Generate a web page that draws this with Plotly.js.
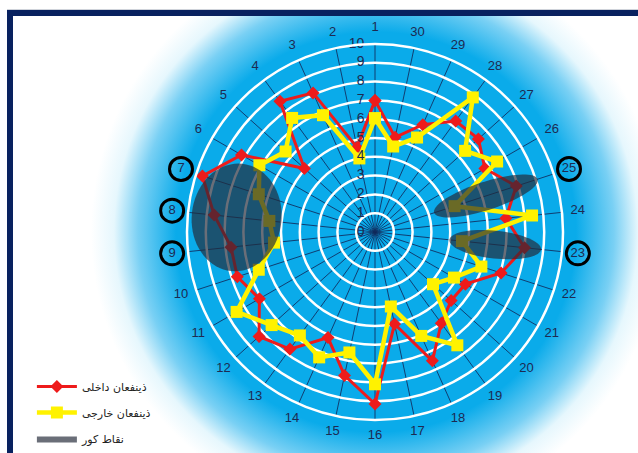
<!DOCTYPE html>
<html>
<head>
<meta charset="utf-8">
<script src="https://cdn.plot.ly/plotly-3.0.1.min.js"></script>
<style>
  html, body { margin: 0; padding: 0; background: #ffffff; }
  #wrap { position: relative; width: 638px; height: 453px; overflow: hidden; background: #ffffff; }
  #frame {
    position: absolute; left: 7px; top: 10px; width: 700px; height: 520px;
    border: 6px solid #08215f; box-sizing: content-box;
    background: radial-gradient(circle at 363px 216px, #0aabea 0px, #0aabea 200px, #79d0f4 238px, #e6f7fd 262px, #ffffff 285px);
  }
  #topline { position: absolute; left: 7px; top: 9px; width: 640px; height: 1px; background: #cfd3da; }
  #chart { position: absolute; left: 0; top: 0; width: 638px; height: 453px; }
</style>
</head>
<body>
<div id="wrap">
  <div id="topline"></div>
  <div id="frame"></div>
  <div id="chart"></div>
</div>
<script>
// ---- data ----
const categories = ['1','2','3','4','5','6','7','8','9','10','11','12','13','14','15',
                    '16','17','18','19','20','21','22','23','24','25','26','27','28','29','30'];
const internalStakeholders = [7.0, 4.6, 8.1, 8.6, 5.05, 8.2, 9.65, 8.6, 7.7, 7.7, 7.1, 8.3, 7.7, 6.15, 7.8,
                              9.15, 5.0, 7.5, 6.0, 5.45, 5.55, 7.05, 8.0, 7.0, 7.9, 6.75, 7.4, 7.3, 6.25, 5.15];
const externalStakeholders = [6.05, 4.0, 6.8, 7.5, 6.4, 7.1, 6.5, 5.65, 5.4, 6.5, 8.5, 7.4, 6.8, 7.3, 6.55,
                              8.1, 4.05, 6.05, 7.45, 4.15, 4.85, 5.95, 4.65, 8.4, 4.45, 7.5, 6.45, 8.85, 5.5, 4.65];
const radialTicks = [0,1,2,3,4,5,6,7,8,9,10];
const highlightedCategories = ['7','8','9','23','25'];
// blind spots: category, radial value of centre, half extent along radius / across (radial units)
const blindSpotCats = ['8', '25', '23'];
const blindSpotR = [7.4, 6.2, 6.43];
const blindSpotAlong = [2.39, 2.89, 2.45];
const blindSpotAcross = [2.87, 0.75, 0.74];

const seriesNames = ['ذینفعان داخلی', 'ذینفعان خارجی', 'نقاط کور'];

// ---- build ----
const step = 360 / categories.length;
const thetaOf = c => categories.indexOf(c) * step;
const thetas = categories.map(thetaOf);
const closeLoop = a => a.concat([a[0]]);
const RMAX = 10, RMAX2 = 11.5, LABEL_R = 10.85;

function ellipse(cat, r0, a, b) {
  const phi = thetaOf(cat) * Math.PI / 180;
  const cx = r0 * Math.cos(phi), cy = r0 * Math.sin(phi);
  const ux = Math.cos(phi), uy = Math.sin(phi), vx = -Math.sin(phi), vy = Math.cos(phi);
  const rr = [], tt = [];
  for (let i = 0; i <= 72; i++) {
    const t = 2 * Math.PI * i / 72;
    const px = cx + a * Math.cos(t) * ux + b * Math.sin(t) * vx;
    const py = cy + a * Math.cos(t) * uy + b * Math.sin(t) * vy;
    rr.push(Math.hypot(px, py));
    tt.push(Math.atan2(py, px) * 180 / Math.PI);
  }
  return {r: rr, theta: tt};
}

const traces = [];
traces.push({
  type: 'scatterpolar', mode: 'lines+markers', name: seriesNames[0], legendgroup: 'a',
  r: closeLoop(internalStakeholders), theta: closeLoop(thetas),
  line: {color: '#ee1b1b', width: 3},
  marker: {symbol: 'diamond', size: 10, color: '#ee1b1b'},
  hoverinfo: 'skip'
});
traces.push({
  type: 'scatterpolar', mode: 'lines+markers', name: seriesNames[1], legendgroup: 'b',
  r: closeLoop(externalStakeholders), theta: closeLoop(thetas),
  line: {color: '#fff200', width: 4.5},
  marker: {symbol: 'square', size: 12, color: '#fff200'},
  hoverinfo: 'skip'
});
blindSpotCats.forEach((c, i) => {
  const e = ellipse(c, blindSpotR[i], blindSpotAlong[i], blindSpotAcross[i]);
  traces.push({
    type: 'scatterpolar', mode: 'lines', fill: 'toself', name: seriesNames[2],
    r: e.r, theta: e.theta, showlegend: i === 0, legendgroup: 'c',
    fillcolor: 'rgba(36,42,56,0.68)', line: {width: 0, color: 'rgba(36,42,56,0.68)'},
    hoverinfo: 'skip'
  });
});
// radial tick labels (upright, left of the first spoke)
traces.push({
  type: 'scatterpolar', mode: 'text', showlegend: false, cliponaxis: false,
  r: radialTicks, theta: radialTicks.map(() => thetaOf('1')),
  text: radialTicks.map(v => String(v) + '\u2007\u2009'), textposition: 'middle left',
  textfont: {family: 'Liberation Sans', size: 14, color: '#1d2a52'},
  hoverinfo: 'skip'
});
// category labels and circled highlights on an outer overlay of the same scale
traces.push({
  type: 'scatterpolar', mode: 'text', showlegend: false, cliponaxis: false, subplot: 'polar2',
  r: categories.map(() => LABEL_R), theta: thetas,
  text: categories, textposition: 'middle center',
  textfont: {family: 'Liberation Sans', size: 13, color: '#1d2a52'},
  hoverinfo: 'skip'
});
traces.push({
  type: 'scatterpolar', mode: 'markers', showlegend: false, cliponaxis: false, subplot: 'polar2',
  r: highlightedCategories.map(() => LABEL_R), theta: highlightedCategories.map(thetaOf),
  marker: {symbol: 'circle-open', size: 23, color: '#000000', line: {width: 3, color: '#000000'}},
  hoverinfo: 'skip'
});

const W = 638, H = 453, CX = 375, CY = 221, R1 = 188, R2 = R1 * RMAX2 / RMAX;
const layout = {
  width: W, height: H, autosize: false,
  margin: {l: 0, r: 0, t: 0, b: 0, pad: 0},
  paper_bgcolor: 'rgba(0,0,0,0)', plot_bgcolor: 'rgba(0,0,0,0)',
  showlegend: true,
  legend: {
    x: 0.05, y: 0.178, xanchor: 'left', yanchor: 'top',
    bgcolor: 'rgba(0,0,0,0)', itemwidth: 40,
    font: {family: 'DejaVu Sans', size: 11, color: '#222222'},
    traceorder: 'grouped', tracegroupgap: 7
  },
  polar: {
    domain: {x: [(CX - R1) / W, (CX + R1) / W], y: [(CY - R1) / H, (CY + R1) / H]},
    bgcolor: 'rgba(0,0,0,0)',
    angularaxis: {
      type: 'linear', thetaunit: 'degrees',
      rotation: 90, direction: 'counterclockwise',
      tickmode: 'array', tickvals: thetas, ticktext: categories, showticklabels: false,
      showline: true, linecolor: '#ffffff', linewidth: 2.5,
      showgrid: true, gridcolor: 'rgba(18,42,92,0.85)', gridwidth: 1,
      ticks: ''
    },
    radialaxis: {
      range: [0, RMAX], angle: 90,
      tickmode: 'array', tickvals: radialTicks, showticklabels: false,
      showline: false, showgrid: true, gridcolor: '#ffffff', gridwidth: 2.5, ticks: ''
    }
  },
  polar2: {
    domain: {x: [(CX - R2) / W, (CX + R2) / W], y: [(CY - R2) / H, (CY + R2) / H]},
    bgcolor: 'rgba(0,0,0,0)',
    angularaxis: {type: 'linear', thetaunit: 'degrees', rotation: 90, direction: 'counterclockwise',
                  visible: false, showgrid: false, showline: false, showticklabels: false, ticks: ''},
    radialaxis: {range: [0, RMAX2], visible: false, showgrid: false, showline: false, showticklabels: false, ticks: ''}
  }
};

Plotly.newPlot('chart', traces, layout, {staticPlot: true, displayModeBar: false});
</script>
</body>
</html>
